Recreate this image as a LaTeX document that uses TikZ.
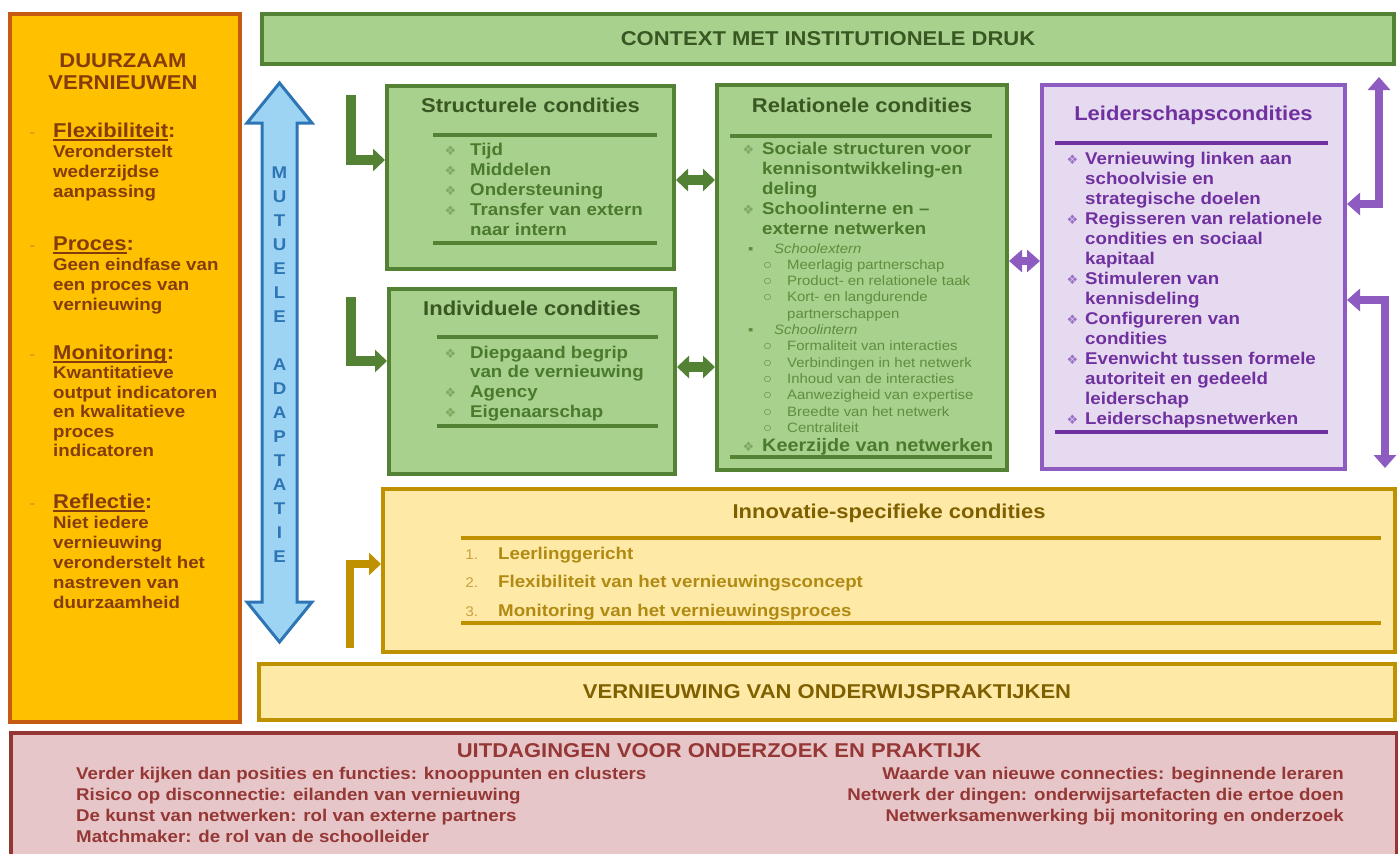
\documentclass[tikz,border=0pt]{standalone}
\usepackage{fontspec}
\setmainfont{Liberation Sans}[FakeStretch=1.1]
\newfontfamily\dejavu{DejaVu Sans}
\usetikzlibrary{arrows.meta, positioning}

\definecolor{orfill}{HTML}{FFC000}
\definecolor{ordraw}{HTML}{C55A11}
\definecolor{ortext}{HTML}{843C0C}
\definecolor{ordash}{HTML}{C8862C}
\definecolor{grfill}{HTML}{A9D18E}
\definecolor{grdraw}{HTML}{548235}
\definecolor{grtitle}{HTML}{385723}
\definecolor{grtext}{HTML}{4A7A2C}
\definecolor{grsoft}{HTML}{5E8E3E}
\definecolor{grbul}{HTML}{7FA860}
\definecolor{blfill}{HTML}{9DD3F3}
\definecolor{bldraw}{HTML}{2E75B6}
\definecolor{pufill}{HTML}{E5DAEF}
\definecolor{pudraw}{HTML}{8E5CC0}
\definecolor{putext}{HTML}{7030A0}
\definecolor{pubul}{HTML}{9A70C8}
\definecolor{yefill}{HTML}{FFE9A6}
\definecolor{yedraw}{HTML}{BF9000}
\definecolor{yetitle}{HTML}{7F6000}
\definecolor{yetext}{HTML}{B08A12}
\definecolor{yenum}{HTML}{C9A244}
\definecolor{rdfill}{HTML}{E6C6C9}
\definecolor{rddraw}{HTML}{943634}
\definecolor{rdtext}{HTML}{953735}

% bullets and headings
\newcommand{\ruit}[2][12pt]{\llap{\textcolor{#2}{\dejavu\mdseries\fontsize{13}{13}\selectfont ❖}\hspace{#1}}}
\newcommand{\nr}[1]{\llap{\textcolor{yenum}{\mdseries\fontsize{14}{14}\selectfont #1}\hspace{20pt}}}
\newcommand{\kop}[1]{\llap{\textcolor{ordash}{\mdseries\fontsize{15}{15}\selectfont -}\hspace{18pt}}%
  {\fontsize{20}{20}\selectfont\setbox0\hbox{#1}\rlap{\rule[-3.5pt]{\wd0}{1.8pt}}\box0:}}

\begin{document}
\begin{tikzpicture}[
        x = 1pt, y = -1pt, % pixel grid, y runs down
        > = {Triangle[length=12pt, width=22pt]},
        box/.style = {anchor = north west, inner sep = 0pt, line width = 4pt},
        orbox/.style = {box, draw = ordraw, fill = orfill},
        grbox/.style = {box, draw = grdraw, fill = grfill},
        pubox/.style = {box, draw = pudraw, fill = pufill},
        yebox/.style = {box, draw = yedraw, fill = yefill},
        rdbox/.style = {box, draw = rddraw, fill = rdfill},
        title/.style = {anchor = base, inner sep = 0pt, font = \bfseries\fontsize{20}{22}\selectfont},
        % multi-line nodes: placed at the baseline of their last line
        list/.style = {anchor = base west, inner sep = 0pt, align = left, font = \bfseries\fontsize{17}{20}\selectfont},
        small/.style = {anchor = base west, inner sep = 0pt, align = left, font = \fontsize{13.6}{16.3}\selectfont},
        sep/.style = {line width = 3.5pt},
        grarrow/.style = {draw = grdraw, line width = 10pt},
        puarrow/.style = {draw = pudraw, line width = 8pt, > = {Triangle[length=13pt, width=22pt]}},
        yearrow/.style = {draw = yedraw, line width = 8pt},
    ]
    \useasboundingbox (0,0) rectangle (1398,854);

    % boxes
    \node[orbox, minimum width = 230pt, minimum height = 708pt] (duurzaam) at (8,12) {};
    \node[grbox, minimum width = 1132pt, minimum height = 50pt] (context) at (260,12) {};
    \node[grbox, minimum width = 287pt, minimum height = 183pt] (struct) at (385,84) {};
    \node[grbox, minimum width = 286pt, minimum height = 185pt] (indiv) at (387,287) {};
    \node[grbox, minimum width = 290pt, minimum height = 385pt] (rel) at (715,83) {};
    \node[pubox, minimum width = 303pt, minimum height = 384pt] (leid) at (1040,83) {};
    \node[yebox, minimum width = 1012pt, minimum height = 163pt] (innov) at (381,487) {};
    \node[yebox, minimum width = 1136pt, minimum height = 56pt] (vern) at (257,662) {};
    \node[rdbox, minimum width = 1386pt, minimum height = 150pt] (uitd) at (9,731) {};

    % mutual adaptation arrow
    \draw[draw = bldraw, fill = blfill, line width = 3pt]
        (279.5,83) -- (312,123) -- (297,123) -- (297,602) -- (312,602) -- (279.5,642)
        -- (247,602) -- (262,602) -- (262,123) -- (247,123) -- cycle;
    \node[anchor = base, inner sep = 0pt, align = center, text = bldraw,
        font = \bfseries\fontsize{17}{24}\selectfont] (mutad) at (279.5,562)
        {M\\U\\T\\U\\E\\L\\E\\[24pt]A\\D\\A\\P\\T\\A\\T\\I\\E};

    % separator lines
    \draw[sep, grdraw] (433,135) -- (657,135) (433,243) -- (657,243);
    \draw[sep, grdraw] (437,337) -- (658,337) (437,426) -- (658,426);
    \draw[sep, grdraw] (730,136) -- (992,136) (730,457) -- (992,457);
    \draw[sep, putext] (1055,143) -- (1328,143) (1055,432) -- (1328,432);
    \draw[sep, yedraw] (461,538) -- (1381,538) (461,623) -- (1381,623);

    % arrows
    \coordinate (lstr) at (351,95);
    \coordinate (lind) at (351,297);
    \coordinate (linn) at (350,648);
    \coordinate (puup) at (1379,77);
    \coordinate (pudown) at (1385,468);
    \draw[grarrow, ->] (lstr) |- (struct.west |- 0,160);
    \draw[grarrow, ->] (lind) |- (indiv.west |- 0,361);
    \draw[yearrow, ->] (linn) |- (innov.west |- 0,564);
    \draw[grarrow, <->] (struct.east |- 0,180) -- (rel.west |- 0,180);
    \draw[grarrow, <->] (indiv.east |- 0,367) -- (rel.west |- 0,367);
    \draw[puarrow, <->] (rel.east |- 0,261) -- (leid.west |- 0,261);
    \draw[puarrow, <->] (puup) |- (leid.east |- 0,204);
    \draw[puarrow, <->] (leid.east |- 0,300) -| (pudown);

    % left column
    \node[title, text = ortext, align = center] (duurT) at (123,89) {DUURZAAM\\VERNIEUWEN};
    \node[list, text = ortext] (flex) at (53,197) {\kop{Flexibiliteit}\\Veronderstelt\\wederzijdse\\aanpassing};
    \node[list, text = ortext] (proces) at (53,310) {\kop{Proces}\\Geen eindfase van\\een proces van\\vernieuwing};
    \node[list, text = ortext, font = \bfseries\fontsize{17}{19.5}\selectfont] (monit) at (53,456.5)
        {\kop{Monitoring}\\Kwantitatieve\\output indicatoren\\en kwalitatieve\\proces\\indicatoren};
    \node[list, text = ortext] (refl) at (53,608) {\kop{Reflectie}\\Niet iedere\\vernieuwing\\veronderstelt het\\nastreven van\\duurzaamheid};

    % context
    \node[title, anchor = center, text = grtitle] (contextT) at (context.center) {CONTEXT MET INSTITUTIONELE DRUK};

    % structural and individual
    \node[title, text = grtitle] (structT) at (struct.north |- 0,112) {Structurele condities};
    \node[list, text = grtext] (structL) at (470,235)
        {\ruit[14pt]{grbul}Tijd\\\ruit[14pt]{grbul}Middelen\\\ruit[14pt]{grbul}Ondersteuning\\\ruit[14pt]{grbul}Transfer van extern\\naar intern};
    \node[title, text = grtitle] (indivT) at (indiv.north |- 0,315) {Individuele condities};
    \node[list, text = grtext, font = \bfseries\fontsize{17}{19.8}\selectfont] (indivL) at (470,417.4)
        {\ruit[14pt]{grbul}Diepgaand begrip\\van de vernieuwing\\\ruit[14pt]{grbul}Agency\\\ruit[14pt]{grbul}Eigenaarschap};

    % relational
    \node[title, text = grtitle] (relT) at (rel.north |- 0,112) {Relationele condities};
    \node[list, text = grtext] (relA) at (762,234)
        {\ruit[8pt]{grbul}Sociale structuren voor\\kennisontwikkeling-en\\deling\\\ruit[8pt]{grbul}Schoolinterne en –\\externe netwerken};
    \node[small, text = grsoft] (relB) at (748,432.3)
        {\makebox[26pt][l]{▪}\textit{Schoolextern}\\
         \hspace{15pt}\makebox[24pt][l]{○}Meerlagig partnerschap\\
         \hspace{15pt}\makebox[24pt][l]{○}Product- en relationele taak\\
         \hspace{15pt}\makebox[24pt][l]{○}Kort- en langdurende\\
         \hspace{39pt}partnerschappen\\
         \makebox[26pt][l]{▪}\textit{Schoolintern}\\
         \hspace{15pt}\makebox[24pt][l]{○}Formaliteit van interacties\\
         \hspace{15pt}\makebox[24pt][l]{○}Verbindingen in het netwerk\\
         \hspace{15pt}\makebox[24pt][l]{○}Inhoud van de interacties\\
         \hspace{15pt}\makebox[24pt][l]{○}Aanwezigheid van expertise\\
         \hspace{15pt}\makebox[24pt][l]{○}Breedte van het netwerk\\
         \hspace{15pt}\makebox[24pt][l]{○}Centraliteit};
    \node[list, text = grtext, font = \bfseries\fontsize{18}{20}\selectfont] (relC) at (762,451)
        {\ruit[8pt]{grbul}Keerzijde van netwerken};

    % leadership
    \node[title, text = putext] (leidT) at (leid.north |- 0,120) {Leiderschapscondities};
    \node[list, text = putext] (leidL) at (1085,424)
        {\ruit[7pt]{pubul}Vernieuwing linken aan\\schoolvisie en\\strategische doelen\\
         \ruit[7pt]{pubul}Regisseren van relationele\\condities en sociaal\\kapitaal\\
         \ruit[7pt]{pubul}Stimuleren van\\kennisdeling\\
         \ruit[7pt]{pubul}Configureren van\\condities\\
         \ruit[7pt]{pubul}Evenwicht tussen formele\\autoriteit en gedeeld\\leiderschap\\
         \ruit[7pt]{pubul}Leiderschapsnetwerken};

    % innovation
    \node[title, text = yetitle] (innovT) at (innov.north |- 0,518) {Innovatie-specifieke condities};
    \node[list, text = yetext, font = \bfseries\fontsize{17}{28.5}\selectfont] (innovL) at (498,616)
        {\nr{1.}Leerlinggericht\\\nr{2.}Flexibiliteit van het vernieuwingsconcept\\\nr{3.}Monitoring van het vernieuwingsproces};
    \node[title, anchor = center, text = yetitle] (vernT) at (vern.center) {VERNIEUWING VAN ONDERWIJSPRAKTIJKEN};

    % challenges
    \node[title, text = rdtext] (uitdT) at (719,757) {UITDAGINGEN VOOR ONDERZOEK EN PRAKTIJK};
    \node[list, text = rdtext, font = \bfseries\fontsize{17}{21.3}\selectfont] (uitdL) at (76,842.9)
        {Verder kijken dan posities en functies: knooppunten en clusters\\
         Risico op disconnectie: eilanden van vernieuwing\\
         De kunst van netwerken: rol van externe partners\\
         Matchmaker: de rol van de schoolleider};
    \node[list, anchor = base east, align = right, text = rdtext, font = \bfseries\fontsize{17}{21.3}\selectfont] (uitdR) at (1344,821.6)
        {Waarde van nieuwe connecties: beginnende leraren\\
         Netwerk der dingen: onderwijsartefacten die ertoe doen\\
         Netwerksamenwerking bij monitoring en onderzoek};
\end{tikzpicture}
\end{document}
